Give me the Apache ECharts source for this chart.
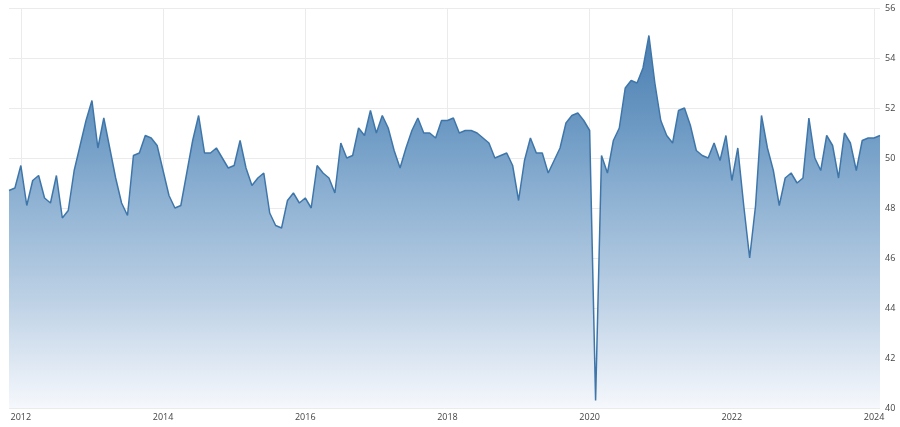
<!DOCTYPE html>
<html>
<head>
<meta charset="utf-8">
<script src="https://cdn.jsdelivr.net/npm/echarts@6/dist/echarts.min.js"></script>
<style>
html,body{margin:0;padding:0;background:#fff;}
#chart{width:900px;height:427px;}
</style>
</head>
<body>
<div id="chart"></div>
<script>
// Monthly values, Nov 2011 .. Feb 2024
const startYear = 2011, startMonth = 11;
const values2011 = [48.7, 48.8];
const values2012 = [49.7, 48.1, 49.1, 49.3, 48.4, 48.2, 49.3, 47.6, 47.9, 49.5, 50.5, 51.5];
const values2013 = [52.3, 50.4, 51.6, 50.4, 49.2, 48.2, 47.7, 50.1, 50.2, 50.9, 50.8, 50.5];
const values2014 = [49.5, 48.5, 48.0, 48.1, 49.4, 50.7, 51.7, 50.2, 50.2, 50.4, 50.0, 49.6];
const values2015 = [49.7, 50.7, 49.6, 48.9, 49.2, 49.4, 47.8, 47.3, 47.2, 48.3, 48.6, 48.2];
const values2016 = [48.4, 48.0, 49.7, 49.4, 49.2, 48.6, 50.6, 50.0, 50.1, 51.2, 50.9, 51.9];
const values2017 = [51.0, 51.7, 51.2, 50.3, 49.6, 50.4, 51.1, 51.6, 51.0, 51.0, 50.8, 51.5];
const values2018 = [51.5, 51.6, 51.0, 51.1, 51.1, 51.0, 50.8, 50.6, 50.0, 50.1, 50.2, 49.7];
const values2019 = [48.3, 49.9, 50.8, 50.2, 50.2, 49.4, 49.9, 50.4, 51.4, 51.7, 51.8, 51.5];
const values2020 = [51.1, 40.3, 50.1, 49.4, 50.7, 51.2, 52.8, 53.1, 53.0, 53.6, 54.9, 53.0];
const values2021 = [51.5, 50.9, 50.6, 51.9, 52.0, 51.3, 50.3, 50.1, 50.0, 50.6, 49.9, 50.9];
const values2022 = [49.1, 50.4, 48.1, 46.0, 48.1, 51.7, 50.4, 49.5, 48.1, 49.2, 49.4, 49.0];
const values2023 = [49.2, 51.6, 50.0, 49.5, 50.9, 50.5, 49.2, 51.0, 50.6, 49.5, 50.7, 50.8];
const values2024 = [50.8, 50.9];
const yTicks = [40, 42, 44, 46, 48, 50, 52, 54, 56];
const xTickYears = ['2012', '2014', '2016', '2018', '2020', '2022', '2024'];

const values = [].concat(values2011, values2012, values2013, values2014, values2015,
  values2016, values2017, values2018, values2019, values2020, values2021,
  values2022, values2023, values2024);

const categories = [];
{
  let y = startYear, m = startMonth;
  for (let i = 0; i < values.length; i++) {
    categories.push(y + '-' + String(m).padStart(2, '0'));
    m++; if (m > 12) { m = 1; y++; }
  }
}
const isTick = (idx, val) => {
  const v = categories[idx];
  return v.slice(5) === '01' && xTickYears.indexOf(v.slice(0, 4)) >= 0;
};

const chart = echarts.init(document.getElementById('chart'), null, {renderer: 'canvas'});
chart.setOption({
  animation: false,
  backgroundColor: '#ffffff',
  grid: {left: 9, right: 20, top: 8, bottom: 19, containLabel: false},
  xAxis: {
    type: 'category',
    data: categories,
    boundaryGap: false,
    axisLine: {show: false},
    axisTick: {show: false},
    axisLabel: {
      interval: isTick,
      formatter: v => v.slice(0, 4),
      fontSize: 9,
      color: '#444',
      margin: 5,
      fontFamily: 'Open Sans, Liberation Sans, sans-serif'
    },
    splitLine: {show: true, interval: isTick, lineStyle: {color: '#ebebeb', width: 1}}
  },
  yAxis: {
    type: 'value',
    position: 'right',
    min: yTicks[0],
    max: yTicks[yTicks.length - 1],
    interval: 2,
    axisLine: {show: false},
    axisTick: {show: false},
    axisLabel: {
      fontSize: 9,
      color: '#444',
      margin: 5,
      fontFamily: 'Open Sans, Liberation Sans, sans-serif'
    },
    splitLine: {show: true, lineStyle: {color: '#ebebeb', width: 1}}
  },
  series: [{
    type: 'line',
    data: values,
    symbol: 'none',
    lineStyle: {color: '#3f76a9', width: 1.5},
    areaStyle: {
      origin: 'start',
      opacity: 1,
      color: new echarts.graphic.LinearGradient(0, 0, 0, 1, [
        {offset: 0, color: '#4a7db0'},
        {offset: 0.25, color: '#6d9ac4'},
        {offset: 0.44, color: '#8fb2d3'},
        {offset: 0.71, color: '#bdd1e5'},
        {offset: 0.92, color: '#e6edf6'},
        {offset: 1, color: '#f5f8fc'}
      ])
    }
  }]
});
</script>
</body>
</html>
